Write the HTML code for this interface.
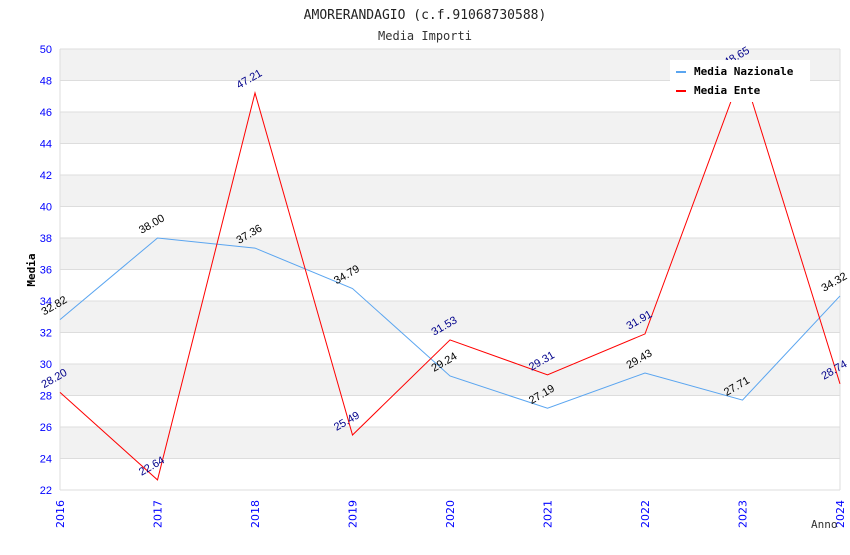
<!DOCTYPE html>
<html><head><meta charset="utf-8"><style>
body{margin:0;background:#fff;}
.mono{font-family:"DejaVu Sans Mono","Liberation Mono",monospace;}
</style></head><body>
<svg id="chart" width="850" height="550" xmlns="http://www.w3.org/2000/svg">
<text class="mono" x="425" y="19" text-anchor="middle" font-size="13" fill="#222">AMORERANDAGIO (c.f.91068730588)</text>
<text class="mono" x="425" y="40" text-anchor="middle" font-size="12" fill="#333">Media Importi</text>
<g id="bands"></g><g id="grid"></g><g id="axes"></g><g id="series"></g><g id="labels"></g>
<text class="mono" transform="translate(35,270) rotate(-90)" text-anchor="middle" font-size="11" font-weight="bold" fill="#000">Media</text>
<text class="mono" x="811" y="528" font-size="11" fill="#333">Anno</text>
<g>
<rect x="670" y="60" width="140" height="42" fill="#fff"/>
<rect x="676" y="71" width="10" height="2" fill="#5aa5f0"/>
<text class="mono" x="694" y="75" font-size="11" font-weight="bold" fill="#000">Media Nazionale</text>
<rect x="676" y="90" width="10" height="2" fill="#f00"/>
<text class="mono" x="694" y="94" font-size="11" font-weight="bold" fill="#000">Media Ente</text>
</g>
</svg>
<script>
const years=[2016,2017,2018,2019,2020,2021,2022,2023,2024];
const nazionale=[32.82,38.00,37.36,34.79,29.24,27.19,29.43,27.71,34.32];
const ente=[28.20,22.64,47.21,25.49,31.53,29.31,31.91,48.65,28.74];
const yTicks=[22,24,26,28,30,32,34,36,38,40,42,44,46,48,50];
const NS='http://www.w3.org/2000/svg';
const x0=60,x1=840,y0=490,y1=49,ymin=22,ymax=50;
const xs=i=>x0+i*(x1-x0)/(years.length-1);
const ys=v=>y0-(v-ymin)*(y0-y1)/(ymax-ymin);
function mk(tag,attrs,parent,txt){const e=document.createElementNS(NS,tag);for(const k in attrs)e.setAttribute(k,attrs[k]);if(txt!==undefined)e.textContent=txt;document.getElementById(parent).appendChild(e);return e;}
for(let i=0;i<yTicks.length-1;i++){
  if(i%2===1){const r=mk('rect',{x:x0,y:ys(yTicks[i+1]),width:x1-x0,height:ys(yTicks[i])-ys(yTicks[i+1]),fill:'#f2f2f2'},'bands');
  
  }
}
yTicks.forEach(t=>{
  const l=mk('line',{x1:x0,x2:x1,y1:ys(t),y2:ys(t),stroke:'#ddd'},'grid');
  
  
  const tx=mk('text',{x:x0-8,y:ys(t)+4,'text-anchor':'end','font-size':'11',fill:'#00f',style:'font-family:"Liberation Sans",sans-serif'},'axes',t);
  
  
});
mk('line',{x1:x0,x2:x0,y1:y1,y2:y0,stroke:'#ddd'},'axes');
mk('line',{x1:x1,x2:x1,y1:y1,y2:y0,stroke:'#ddd'},'axes');
years.forEach((y,i)=>{
  const tx=mk('text',{transform:`translate(${xs(i)+4},${y0+38}) rotate(-90)`,'font-size':'11',fill:'#00f',style:'font-family:"DejaVu Sans",sans-serif'},'axes',y);
  
  
});
function series(vals,color,name,lblColor){
  const p=mk('polyline',{points:vals.map((v,i)=>xs(i)+','+ys(v)).join(' '),fill:'none',stroke:color,'stroke-width':1},'series');
  
  
  vals.forEach((v,i)=>{
    const t=mk('text',{transform:`translate(${xs(i)-16},${ys(v)-4}) rotate(-30)`,'font-size':'11',fill:lblColor,style:'font-family:"Liberation Sans",sans-serif'},'labels',v.toFixed(2));
    
    
  });
}
series(nazionale,'#5aa5f0','media-nazionale-line','#000');
series(ente,'#f00','media-ente-line','#00008b');
</script>
</body></html>
